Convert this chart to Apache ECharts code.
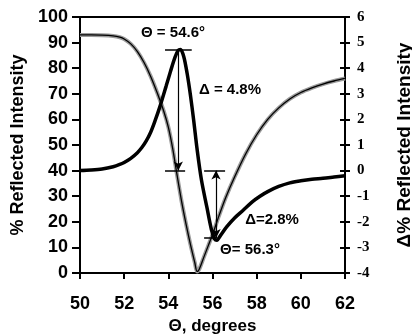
<!DOCTYPE html>
<html>
<head>
<meta charset="utf-8">
<script src="https://cdn.jsdelivr.net/npm/echarts@6/dist/echarts.min.js"></script>
<style>
  html, body { margin: 0; padding: 0; background: #fff; }
  #chart { width: 412px; height: 335px; }
</style>
</head>
<body>
<div id="chart"></div>
<script>
// SPR reflectivity curve (left axis, %)
const reflTheta = [50, 50.5, 51, 51.5, 51.8, 52.0, 52.3, 52.6, 52.9, 53.2, 53.5, 53.8, 54.0, 54.2, 54.4, 54.6, 54.8, 55.0, 55.2, 55.3, 55.4, 55.6, 55.8, 56.0, 56.3, 56.6, 57.0, 57.5, 58.0, 58.5, 59.0, 59.5, 60.0, 60.5, 61.0, 61.5, 62.0];
const reflValues = [93, 93, 92.9, 92.6, 92.1, 91.4, 89.5, 86.5, 82.2, 76.8, 70.3, 63, 57, 48.5, 38, 28, 19.2, 11.2, 4, 0.6, 1.5, 6, 10.5, 15, 22.5, 29.5, 37.5, 46.5, 54, 60, 64.5, 68, 70.5, 72.3, 73.8, 75, 76];

// difference curve (right axis, delta %)
const deltaTheta = [50, 50.5, 51, 51.5, 51.8, 52, 52.3, 52.6, 52.8, 53.0, 53.2, 53.4, 53.6, 53.9, 54.1, 54.3, 54.45, 54.55, 54.7, 54.85, 55.0, 55.15, 55.3, 55.5, 55.75, 55.95, 56.1, 56.2, 56.35, 56.64, 57.0, 57.4, 57.8, 58.15, 58.5, 59.0, 59.5, 60.0, 60.5, 61.0, 61.5, 62.0];
const deltaValues = [0, 0.02, 0.06, 0.15, 0.24, 0.32, 0.48, 0.7, 0.9, 1.16, 1.5, 1.95, 2.45, 3.3, 3.88, 4.42, 4.7, 4.73, 4.45, 3.8, 2.95, 1.95, 0.85, -0.37, -1.45, -2.3, -2.68, -2.72, -2.55, -2.2, -1.85, -1.54, -1.22, -1.0, -0.82, -0.62, -0.48, -0.4, -0.34, -0.3, -0.25, -0.2];

// annotation arrows, in theta / delta units
const arrow1 = { theta: 54.45, from: 4.72, to: 0 };
const arrow2 = { theta: 56.16, from: 0, to: -2.63 };
const caps = [
  [53.85, 55.06, 4.72],
  [53.85, 54.76, 0],
  [55.62, 56.57, 0],
  [55.62, 56.2, -2.63]
];

const xTicks = { min: 50, max: 62, step: 2 };
const leftTicks = { min: 0, max: 100, step: 10 };
const rightTicks = { min: -4, max: 6, step: 1 };

const SANS = '"Liberation Sans", Arial, sans-serif';
const SERIF = '"Liberation Serif", "Times New Roman", serif';

const zip = (xs, ys) => xs.map((x, i) => [x, ys[i]]);

const chart = echarts.init(document.getElementById('chart'));

const option = {
  animation: false,
  backgroundColor: '#fff',
  grid: {
    left: 80, right: 67, top: 17, bottom: 62,
    containLabel: false,
    outerBoundsMode: 'none',
    show: true, borderColor: '#000', borderWidth: 2
  },
  xAxis: {
    type: 'value',
    min: xTicks.min, max: xTicks.max, interval: xTicks.step,
    name: 'Θ, degrees',
    nameLocation: 'middle',
    nameGap: 45,
    nameTextStyle: { fontFamily: SANS, fontWeight: 'bold', fontSize: 17, color: '#000' },
    axisLine: { lineStyle: { color: '#000', width: 2 } },
    axisTick: { length: 6, lineStyle: { color: '#000', width: 2 } },
    axisLabel: { margin: 22, fontFamily: SANS, fontWeight: 'bold', fontSize: 18, color: '#000' },
    splitLine: { show: false }
  },
  yAxis: [
    {
      type: 'value',
      position: 'left',
      min: leftTicks.min, max: leftTicks.max, interval: leftTicks.step,
      name: '% Reflected Intensity',
      nameLocation: 'middle',
      nameRotate: 90,
      nameGap: 44,
      nameTextStyle: { fontFamily: SANS, fontWeight: 'bold', fontSize: 18, color: '#000' },
      axisLine: { show: true, lineStyle: { color: '#000', width: 2 } },
      axisTick: { show: true, length: 8, lineStyle: { color: '#000', width: 2 } },
      axisLabel: { margin: 12, fontFamily: SANS, fontWeight: 'bold', fontSize: 18, color: '#000' },
      splitLine: { show: false }
    },
    {
      type: 'value',
      position: 'right',
      min: rightTicks.min, max: rightTicks.max, interval: rightTicks.step,
      name: 'Δ% Reflected Intensity',
      nameLocation: 'middle',
      nameRotate: 90,
      nameGap: 50,
      nameTextStyle: { fontFamily: SANS, fontWeight: 'bold', fontSize: 19, color: '#000' },
      axisLine: { show: true, lineStyle: { color: '#000', width: 2 } },
      axisTick: { show: true, length: 5, lineStyle: { color: '#000', width: 2 } },
      axisLabel: { margin: 12, fontFamily: SERIF, fontWeight: 'bold', fontSize: 15, color: '#000' },
      splitLine: { show: false }
    },
    {
      // inner half of the right-axis ticks
      type: 'value',
      position: 'right',
      min: rightTicks.min, max: rightTicks.max, interval: rightTicks.step,
      axisLine: { show: false },
      axisTick: { show: true, inside: true, length: 5, lineStyle: { color: '#000', width: 2 } },
      axisLabel: { show: false },
      splitLine: { show: false }
    }
  ],
  graphic: [
    { type: 'text', x: 173, y: 33, style: { text: 'Θ = 54.6°', font: 'bold 15px ' + SANS, fill: '#000', align: 'center', verticalAlign: 'middle' } },
    { type: 'text', x: 230, y: 90, style: { text: 'Δ = 4.8%', font: 'bold 15px ' + SANS, fill: '#000', align: 'center', verticalAlign: 'middle' } },
    { type: 'text', x: 272, y: 220, style: { text: 'Δ=2.8%', font: 'bold 15px ' + SANS, fill: '#000', align: 'center', verticalAlign: 'middle' } },
    { type: 'text', x: 250, y: 250, style: { text: 'Θ= 56.3°', font: 'bold 15px ' + SANS, fill: '#000', align: 'center', verticalAlign: 'middle' } }
  ],
  series: [
    {
      name: 'reflectivity (gray)',
      type: 'line',
      yAxisIndex: 0,
      data: zip(reflTheta, reflValues),
      smooth: 0.3,
      showSymbol: false,
      lineStyle: { color: '#9a9a9a', width: 4 }
    },
    {
      name: 'reflectivity',
      type: 'line',
      yAxisIndex: 0,
      data: zip(reflTheta, reflValues),
      smooth: 0.3,
      showSymbol: false,
      lineStyle: { color: '#000', width: 1.3 }
    },
    {
      name: 'difference',
      type: 'line',
      yAxisIndex: 1,
      data: zip(deltaTheta, deltaValues),
      smooth: 0.3,
      showSymbol: false,
      lineStyle: { color: '#000', width: 3.5 },
      markLine: {
        silent: true,
        symbol: 'none',
        label: { show: false },
        lineStyle: { color: '#000', width: 1.5, type: 'solid' },
        data: caps.map(c => [{ coord: [c[0], c[2]] }, { coord: [c[1], c[2]] }])
      }
    },
    {
      type: 'line',
      yAxisIndex: 1,
      data: [],
      markLine: {
        silent: true,
        symbol: ['none', 'arrow'],
        symbolSize: [7, 9],
        label: { show: false },
        lineStyle: { color: '#000', width: 1.2, type: 'solid' },
        data: [[{ coord: [arrow1.theta, arrow1.from] }, { coord: [arrow1.theta, arrow1.to] }]]
      }
    },
    {
      type: 'line',
      yAxisIndex: 1,
      data: [],
      markLine: {
        silent: true,
        symbol: ['arrow', 'arrow'],
        symbolSize: [7, 9],
        label: { show: false },
        lineStyle: { color: '#000', width: 1.2, type: 'solid' },
        data: [[{ coord: [arrow2.theta, arrow2.from] }, { coord: [arrow2.theta, arrow2.to] }]]
      }
    }
  ]
};

chart.setOption(option);
</script>
</body>
</html>
